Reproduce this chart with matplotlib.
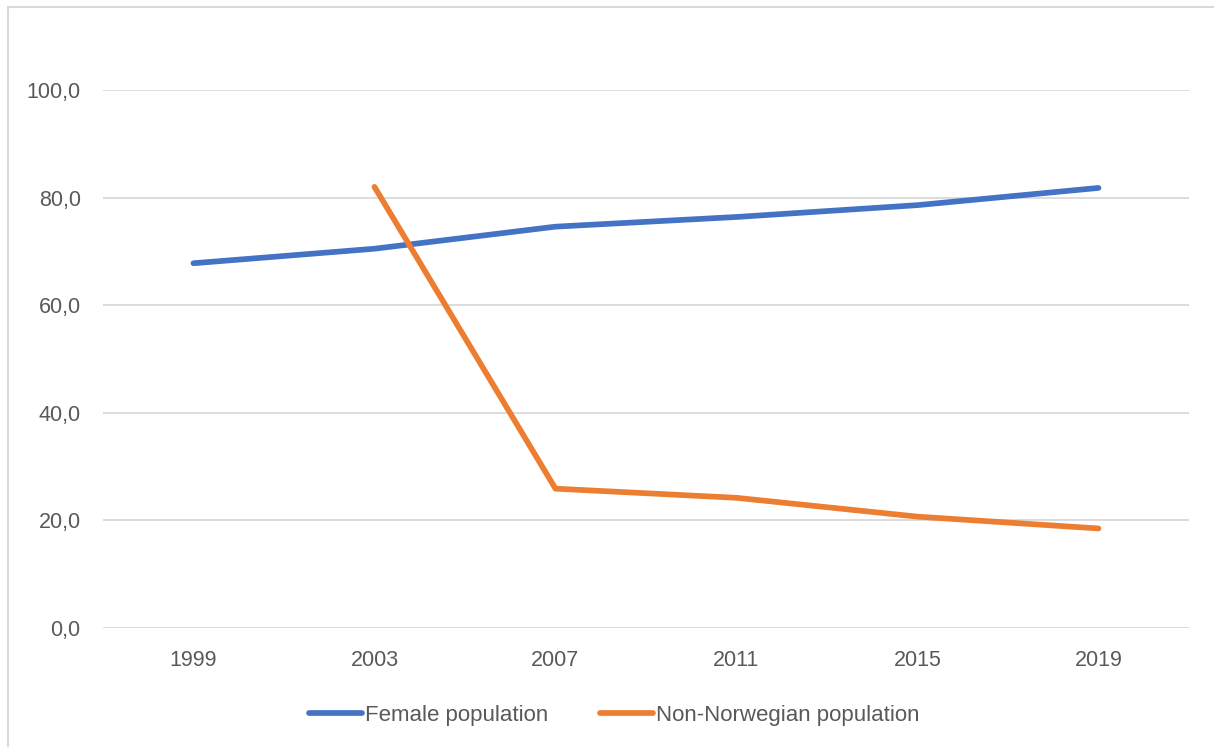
import matplotlib.pyplot as plt
from matplotlib.patches import Rectangle
import numpy as np

years = ['1999', '2003', '2007', '2011', '2015', '2019']
female = [67.8, 70.5, 74.6, 76.4, 78.6, 81.8]
non_norwegian = [np.nan, 82.0, 25.9, 24.2, 20.7, 18.5]

text_col = '#595959'
grid_col = '#D9D9D9'

plt.rcParams['font.family'] = ['Liberation Sans', 'DejaVu Sans']
plt.rcParams['font.size'] = 15

fig = plt.figure(figsize=(12.14, 7.47), dpi=100)
ax = fig.add_axes([0.0848, 0.1593, 0.8946, 0.7202])

x = np.arange(len(years))
ax.plot(x, female, color='#4472C4', lw=4.1, solid_capstyle='round',
        solid_joinstyle='round', label='Female population', zorder=3)
ax.plot(x, non_norwegian, color='#ED7D31', lw=4.1, solid_capstyle='round',
        solid_joinstyle='round', label='Non-Norwegian population', zorder=3)

ax.set_xlim(-0.5, len(years) - 0.5)
ax.set_ylim(0, 100)
ax.set_yticks(np.arange(0, 101, 20))
ax.set_yticklabels([f'{v:.1f}'.replace('.', ',') for v in range(0, 101, 20)])
ax.set_xticks(x)
ax.set_xticklabels(years)
ax.yaxis.grid(True, color=grid_col, lw=1.3)
ax.set_axisbelow(True)
for s in ax.spines.values():
    s.set_visible(False)
ax.tick_params(axis='both', length=0, colors=text_col, labelsize=15.5)
ax.tick_params(axis='y', pad=16)
ax.tick_params(axis='x', pad=16)

# outer chart border
fig.patches.append(Rectangle((8 / 1214, -0.05), 1.1, 1 - 7 / 747 + 0.05,
                             transform=fig.transFigure, fill=False,
                             edgecolor=grid_col, lw=1.5))

leg = ax.legend(loc='center', bbox_to_anchor=(0.506, 0.042),
                bbox_transform=fig.transFigure, ncol=2, frameon=False,
                handlelength=2.4, handletextpad=0.15, columnspacing=2.3,
                fontsize=16)
for t in leg.get_texts():
    t.set_color(text_col)

fig.savefig('out.png', dpi=100)
